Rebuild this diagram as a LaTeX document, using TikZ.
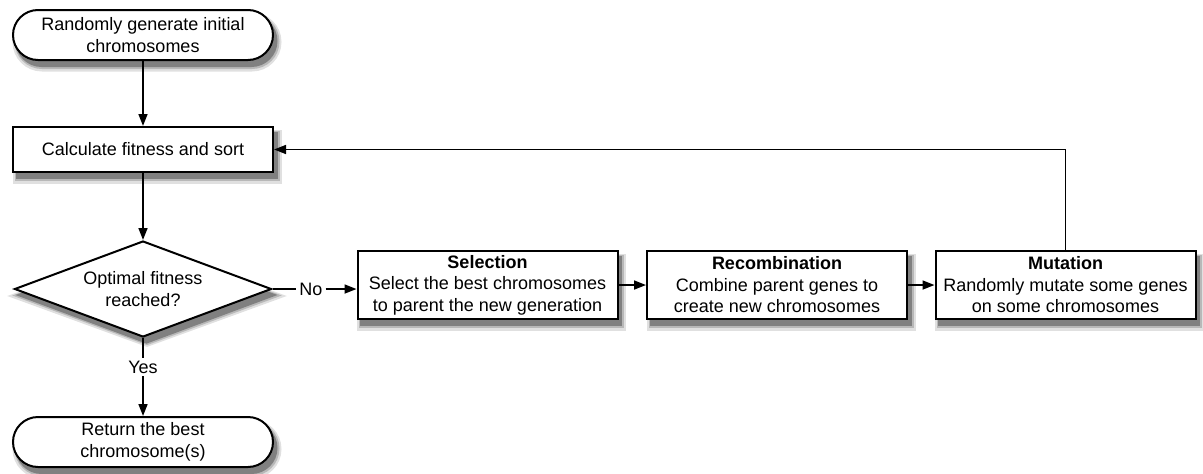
\documentclass[tikz,border=0pt]{standalone}
\usepackage{fontspec}
\setmainfont{Liberation Sans}
\usetikzlibrary{shapes.geometric,shapes.misc,arrows.meta,calc}
\newcommand\dropsh[4]{%
  \node[#1, draw=black!12, fill=black!12, line width=9pt] (#4-s1) at ($(#2,#3)+(4,7)$) {};
  \node[#1, draw=black!28, fill=black!28, line width=5pt] (#4-s2) at ($(#2,#3)+(4,6.5)$) {};
  \node[#1, draw=black!50, fill=black!50, line width=2pt] (#4-s3) at ($(#2,#3)+(3.5,6)$) {};
}
\begin{document}
\begin{tikzpicture}[x=1pt,y=-1pt,
  every node/.style={font=\fontsize{18}{21.5}\selectfont, align=center},
  termshape/.style={rounded rectangle, minimum width=260pt, minimum height=50pt, inner sep=0pt},
  procshape/.style={rectangle, minimum width=260pt, minimum height=68pt, inner sep=0pt},
  calcshape/.style={rectangle, minimum width=260pt, minimum height=45pt, inner sep=0pt},
  decshape/.style={diamond, aspect=2.7, minimum width=257pt, minimum height=96pt, inner sep=0pt},
  main/.style={draw=black, fill=white, line width=2pt},
  lbl/.style={inner sep=3pt},
  arr/.style={line width=1.7pt, -{Triangle[length=12pt,width=9pt]}},
  ln/.style={line width=1.7pt}
]
\useasboundingbox (0,0) rectangle (1203,474);
\dropsh{termshape}{143}{35}{start}
\dropsh{calcshape}{143}{149.5}{calc}
\dropsh{decshape}{143}{289}{dec}
\dropsh{procshape}{487.5}{285}{sel}
\dropsh{procshape}{777}{285}{rec}
\dropsh{procshape}{1065.5}{285}{mut}
\dropsh{termshape}{143}{442}{end}
\node[termshape, main] (start) at (143,35) {Randomly generate initial\\chromosomes};
\node[calcshape, main] (calc) at (143,149.5) {Calculate fitness and sort};
\node[decshape, main] (dec) at (143,289) {Optimal fitness\\reached?};
\node[procshape, main] (sel) at (487.5,285) {\textbf{Selection}\\Select the best chromosomes\\to parent the new generation};
\node[procshape, main] (rec) at (777,285) {\textbf{Recombination}\\Combine parent genes to\\create new chromosomes};
\node[procshape, main] (mut) at (1065.5,285) {\textbf{Mutation}\\Randomly mutate some genes\\on some chromosomes};
\node[termshape, main] (end) at (143,442) {Return the best\\chromosome(s)};
\node[lbl] (no) at (311,289) {No};
\node[lbl] (yes) at (143,367) {Yes};
\draw[arr] (start) -- (calc);
\draw[arr] (calc) -- (dec);
\draw[ln] (dec.east) -- (no.west);
\draw[arr] (no.east) -- (no.east -| sel.west);
\draw[arr] (sel) -- (rec);
\draw[arr] (rec) -- (mut);
\draw[arr] (mut.north) |- (calc.east);
\draw[ln] (dec.south) -- (yes.north);
\draw[arr] (yes.south) -- (end.north);
\end{tikzpicture}
\end{document}
